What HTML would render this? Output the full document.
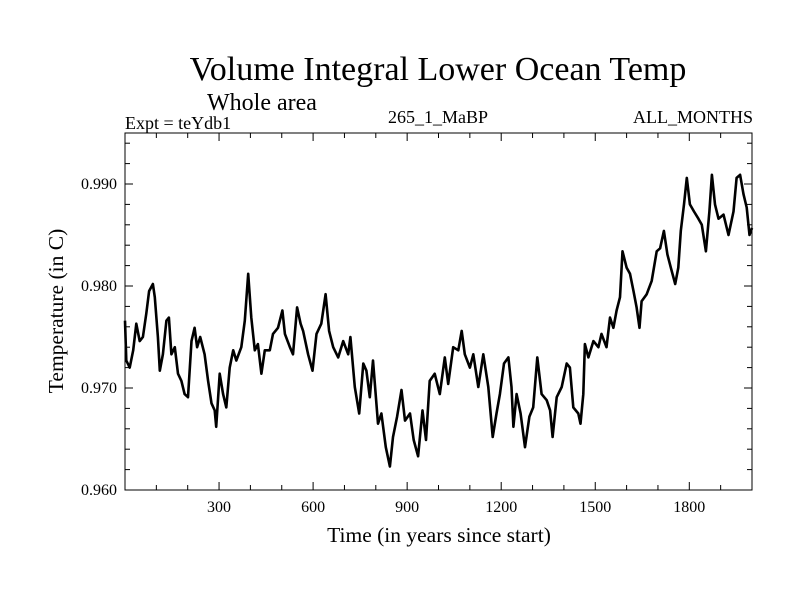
<!DOCTYPE html>
<html><head><meta charset="utf-8"><style>
body{margin:0;background:#fff}
svg{font-family:"Liberation Serif",serif}
</style></head><body>
<svg id="c" width="800" height="600">
<text x="438" y="80" font-size="34" text-anchor="middle">Volume Integral Lower Ocean Temp</text>
<text x="207" y="110" font-size="24">Whole area</text>
<text x="125" y="129" font-size="18">Expt = teYdb1</text>
<text x="438" y="123" font-size="18" text-anchor="middle">265_1_MaBP</text>
<text x="753" y="123" font-size="18" text-anchor="end">ALL_MONTHS</text>
<text x="439" y="542" font-size="21.5" text-anchor="middle">Time (in years since start)</text>
<text transform="translate(63,311) rotate(-90)" font-size="21.5" text-anchor="middle">Temperature (in C)</text>
<g id="axes"></g>
<path id="line" fill="none" stroke="#000" stroke-width="2.6" stroke-linejoin="round"></path>
<rect x="125" y="133" width="627" height="357" fill="none" stroke="#000" stroke-width="1"></rect>
</svg>
<script>
const xTicks=[300,600,900,1200,1500,1800];
const yTicks=[0.960,0.970,0.980,0.990];
const yTickLabels=["0.960","0.970","0.980","0.990"];
const years=[0,4,15,26,36,47,57,68,77,89,95,105,111,121,132,140,148,159,169,180,190,201,212,222,230,240,254,265,276,286,291,302,313,323,334,345,355,371,382,393,403,414,424,435,446,462,472,488,502,510,526,536,549,560,568,584,598,611,626,640,651,664,680,696,712,719,733,747,760,770,781,791,807,818,832,845,855,868,882,893,909,921,935,949,960,972,
988,1004,1020,1031,1047,1063,1074,1084,1100,1111,1127,1143,1159,1173,1185,1196,1209,1223,1233,1239,1249,1262,1276,1290,1302,1315,1329,1345,1356,1364,1377,1393,1409,1419,1430,1446,1453,1462,1467,1478,1494,1510,1520,1536,1547,1558,1568,1579,1587,1600,1611,1622,1632,1641,1648,1664,1680,1696,1707,1719,1730,1741,1755,1765,1773,1783,1792,1802,1815,1829,1840,1853,1864,1872,1882,1893,1909,1925,1941,1951,1962,1973,1983,1992,2000];
const temps=[0.9766,0.9727,0.9720,0.9737,0.9763,0.9746,0.9750,0.9773,0.9795,0.9802,0.9789,0.9750,0.9717,0.9733,0.9766,0.9769,0.9733,0.9740,0.9714,0.9707,0.9694,0.9691,0.9746,0.9759,0.9740,0.9750,0.9733,0.9707,0.9685,0.9678,0.9662,0.9714,0.9694,0.9681,0.9720,0.9737,0.9727,0.9740,0.9766,0.9812,0.9769,0.9737,0.9743,0.9714,0.9737,0.9737,0.9753,0.9759,0.9776,0.9753,0.9740,0.9733,0.9779,0.9763,0.9756,0.9733,0.9717,0.9753,0.9763,0.9792,0.9756,0.9740,0.9730,0.9746,0.9733,0.9750,0.9701,0.9675,0.9724,0.9717,0.9691,0.9727,0.9665,0.9675,0.9642,0.9623,0.9652,0.9672,0.9698,0.9668,0.9675,0.9649,0.9633,0.9678,0.9649,0.9707,
0.9714,0.9694,0.9730,0.9704,0.9740,0.9737,0.9756,0.9733,0.9720,0.9733,0.9701,0.9733,0.9701,0.9652,0.9675,0.9694,0.9724,0.9730,0.9701,0.9662,0.9694,0.9675,0.9642,0.9672,0.9681,0.9730,0.9694,0.9688,0.9678,0.9652,0.9691,0.9701,0.9724,0.9720,0.9681,0.9675,0.9665,0.9694,0.9743,0.9730,0.9746,0.9740,0.9753,0.9740,0.9769,0.9759,0.9776,0.9789,0.9834,0.9818,0.9812,0.9795,0.9779,0.9759,0.9785,0.9792,0.9805,0.9834,0.9837,0.9854,0.9831,0.9818,0.9802,0.9818,0.9854,0.9880,0.9906,0.9880,0.9873,0.9866,0.9860,0.9834,0.9873,0.9909,0.9880,0.9866,0.9870,0.9850,0.9873,0.9906,0.9909,0.9890,0.9877,0.9850,0.9857];
const X0=125,X1=752,Y0=490,Y1=133,XMIN=0,XMAX=2000,YMIN=0.960,YMAX=0.995;
const sx=v=>X0+(v-XMIN)/(XMAX-XMIN)*(X1-X0);
const sy=v=>Y0-(v-YMIN)/(YMAX-YMIN)*(Y0-Y1);
const NS="http://www.w3.org/2000/svg";
const g=document.getElementById('axes');
function ln(x1,y1,x2,y2,name){const l=document.createElementNS(NS,'line');l.setAttribute('x1',x1);l.setAttribute('y1',y1);l.setAttribute('x2',x2);l.setAttribute('y2',y2);l.setAttribute('stroke','#000');l.setAttribute('stroke-width','1');


g.appendChild(l);}
function tx(x,y,s,anchor,name){const t=document.createElementNS(NS,'text');t.setAttribute('x',x);t.setAttribute('y',y);t.setAttribute('font-size','16');t.setAttribute('text-anchor',anchor);t.textContent=s;


g.appendChild(t);}
for(let v=100;v<XMAX;v+=100){const x=sx(v);const major=v%300===0;const L=major?8:5;ln(x,Y0,x,Y0-L,'x-tick');ln(x,Y1,x,Y1+L,'x-tick-top');}
xTicks.forEach(v=>tx(sx(v),Y0+22,String(v),'middle','x-tick-label'));
for(let k=0;k<=17;k++){const v=YMIN+k*0.002;const y=sy(v);const major=k%5===0;const L=major?8:5;ln(X0,y,X0+L,y,'y-tick');ln(X1,y,X1-L,y,'y-tick-right');}
yTicks.forEach((v,i)=>tx(X0-8,sy(v)+5,yTickLabels[i],'end','y-tick-label'));
document.getElementById('line').setAttribute('d',years.map((yr,i)=>(i?'L':'M')+sx(yr).toFixed(1)+','+sy(temps[i]).toFixed(1)).join(''));
</script>
</body></html>
